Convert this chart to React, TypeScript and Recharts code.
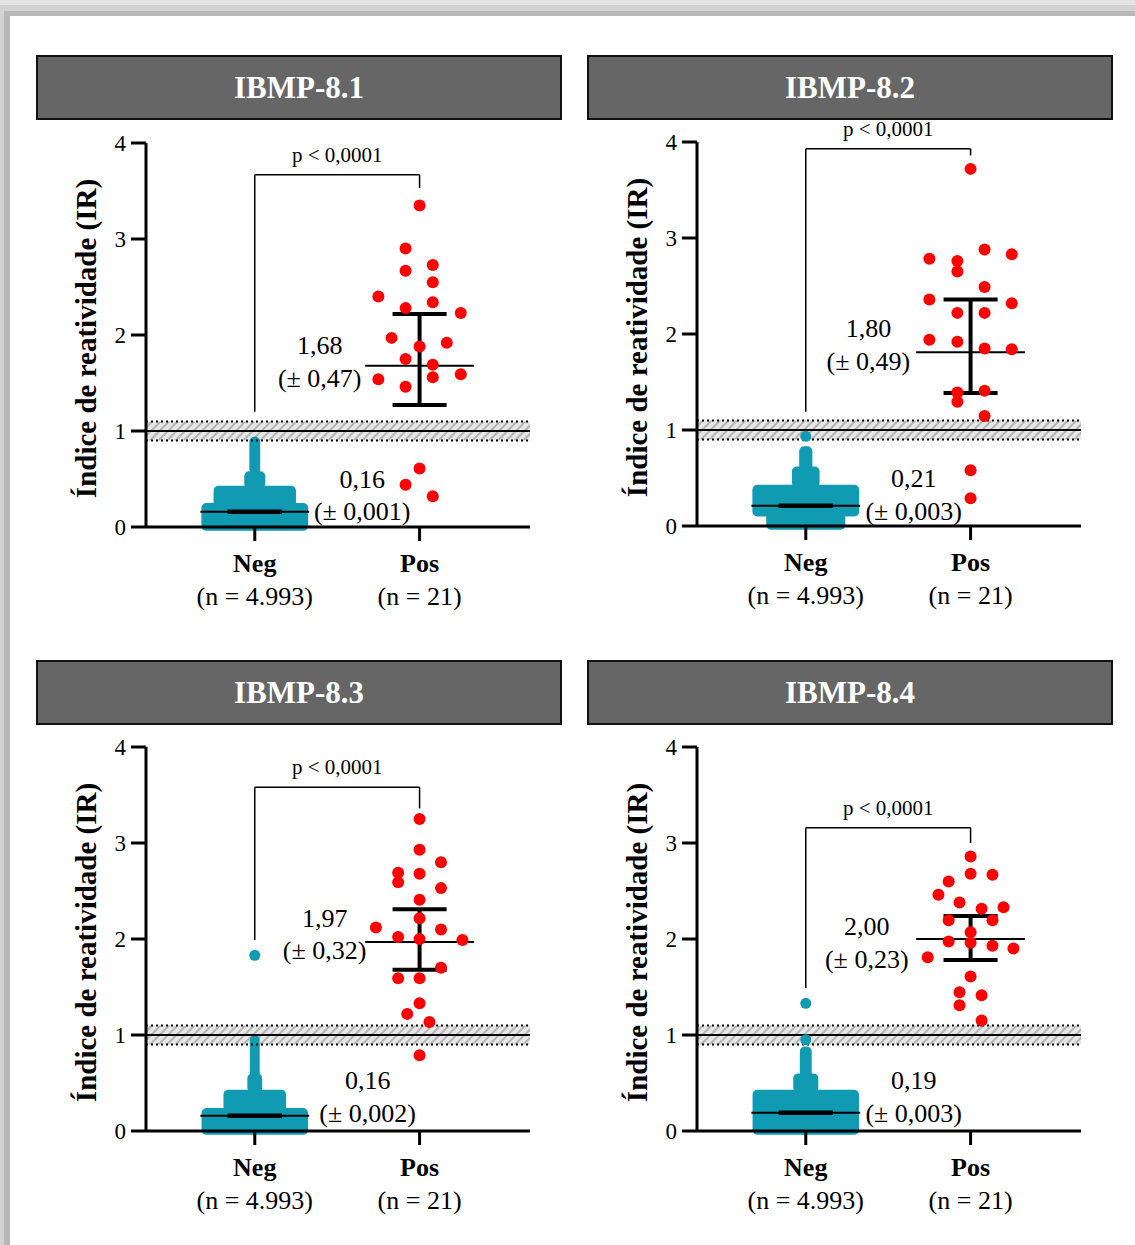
import React from 'react';
import {
  ComposedChart,
  Scatter,
  XAxis,
  YAxis,
  ReferenceArea,
  ReferenceLine,
  ReferenceDot,
} from 'recharts';

const FONT = '"Liberation Serif", "Times New Roman", serif';
const TEAL = '#109bb2';
const RED = '#ff0000';

const panelTitles = ['IBMP-8.1', 'IBMP-8.2', 'IBMP-8.3', 'IBMP-8.4'];
const groupNames = ['Neg', 'Pos'];
const groupSizes = ['(n = 4.993)', '(n = 21)'];
const yTicks = [0, 1, 2, 3, 4];
const cutoffLine = 1;
const cutoffLow = 0.9;
const cutoffHigh = 1.1;
const pText = 'p < 0,0001';

// positive sera: [IR, horizontal swarm offset]
const pos81: [number, number][] = [
  [3.35, 0], [2.9, -0.085], [2.73, 0.08], [2.67, -0.085], [2.55, 0.08], [2.4, -0.25], [2.34, 0.08],
  [2.28, -0.085], [2.23, 0.25], [1.97, -0.17], [1.92, 0.165], [1.88, 0], [1.75, -0.085], [1.69, 0.08],
  [1.54, -0.25], [1.56, 0.08], [1.59, 0.25], [1.46, -0.085], [0.61, 0], [0.44, -0.085], [0.32, 0.08],
];
const pos82: [number, number][] = [
  [3.72, 0], [2.785, -0.25], [2.76, -0.08], [2.88, 0.085], [2.83, 0.25], [2.65, -0.08], [2.49, 0.085],
  [2.36, -0.25], [2.32, 0.25], [2.22, -0.08], [2.22, 0.085], [1.94, -0.25], [1.92, -0.08], [1.85, 0.085],
  [1.84, 0.25], [1.39, -0.08], [1.41, 0.085], [1.295, -0.08], [1.146, 0.085], [0.58, 0], [0.29, 0],
];
const pos83: [number, number][] = [
  [3.25, 0], [2.93, 0], [2.8, 0.13], [2.69, -0.13], [2.68, 0], [2.59, -0.13], [2.53, 0.13],
  [2.41, 0], [2.215, 0], [2.12, -0.265], [2.1, 0.13], [2.02, -0.13], [2.0, 0], [1.99, 0.26],
  [1.7, 0.13], [1.59, -0.13], [1.59, 0], [1.33, 0], [1.22, -0.075], [1.135, 0.06], [0.79, 0],
];
const pos84: [number, number][] = [
  [2.86, 0], [2.6, -0.133], [2.68, 0], [2.67, 0.133], [2.46, -0.195], [2.38, -0.067], [2.315, 0.067],
  [2.33, 0.2], [2.195, -0.133], [2.195, 0.133], [2.07, 0], [1.975, -0.133], [1.96, 0], [1.93, 0.133],
  [1.9, 0.26], [1.81, -0.26], [1.61, 0], [1.445, -0.067], [1.415, 0.067], [1.31, -0.067], [1.15, 0.067],
];

// negative sera (n = 4.993) swarm outline: [from IR, to IR, half width]
const neg81: [number, number, number][] = [[-0.04, 0.25, 0.324], [0.2, 0.43, 0.25], [0.4, 0.58, 0.064], [0.55, 0.94, 0.033]];
const neg82: [number, number, number][] = [[-0.04, 0.14, 0.24], [0.1, 0.43, 0.324], [0.4, 0.62, 0.084], [0.55, 0.83, 0.04]];
const neg83: [number, number, number][] = [[-0.04, 0.24, 0.323], [0.2, 0.43, 0.19], [0.4, 0.6, 0.045], [0.55, 1.0, 0.03]];
const neg84: [number, number, number][] = [[-0.04, 0.43, 0.323], [0.4, 0.6, 0.076], [0.55, 0.88, 0.036]];
// isolated negative sera
const negOut81: number[] = [];
const negOut82 = [0.934];
const negOut83 = [1.83];
const negOut84 = [1.33, 0.95];

const negMean = [0.16, 0.21, 0.16, 0.19];
const posMean = [1.68, 1.81, 1.97, 2.0];
const posBarLow = [1.27, 1.385, 1.68, 1.78];
const posBarHigh = [2.22, 2.36, 2.31, 2.24];
const posMeanText = ['1,68', '1,80', '1,97', '2,00'];
const posSdText = ['(± 0,47)', '(± 0,49)', '(± 0,32)', '(± 0,23)'];
const negMeanText = ['0,16', '0,21', '0,16', '0,19'];
const negSdText = ['(± 0,001)', '(± 0,003)', '(± 0,002)', '(± 0,003)'];
const bracketTop = [3.67, 3.93, 3.58, 3.16];
const bracketNegFoot = [1.2, 1.19, 1.99, 1.49];
const bracketPosFoot = [3.53, 3.86, 3.36, 3.0];

const posSets = [pos81, pos82, pos83, pos84];
const negSets = [neg81, neg82, neg83, neg84];
const negOutSets = [negOut81, negOut82, negOut83, negOut84];

const TOP_PAD = 40;

const layout = [
  { left: 0, top: 120, hx: 36, hy: 55, px: 1.394, py: [1.896, 1.552], nx: 1.652, ny: [0.503, 0.17] },
  { left: 551, top: 119, hx: 587, hy: 55, px: 1.38, py: [2.0625, 1.72], nx: 1.655, ny: [0.5, 0.156] },
  { left: 0, top: 724, hx: 36, hy: 660, px: 1.424, py: [2.219, 1.885], nx: 1.685, ny: [0.531, 0.1875] },
  { left: 551, top: 724, hx: 587, hy: 660, px: 1.37, py: [2.135, 1.79], nx: 1.655, ny: [0.531, 0.1875] },
];

const GroupTick = (props: any) => {
  const { x, y, payload } = props;
  const idx = payload.value === 1 ? 0 : 1;
  return (
    <g>
      <text x={x} y={y + 29} textAnchor="middle" fontFamily={FONT} fontWeight="bold" fontSize={26} fill="#000">
        {groupNames[idx]}
      </text>
      <text x={x} y={y + 62} textAnchor="middle" fontFamily={FONT} fontSize={26} fill="#000">
        {groupSizes[idx]}
      </text>
    </g>
  );
};

const ValueTick = (props: any) => {
  const { x, y, payload } = props;
  return (
    <text x={x} y={y + 8} textAnchor="end" fontFamily={FONT} fontSize={23} fill="#000">
      {payload.value}
    </text>
  );
};

const AxisTitle = () => (
  <text
    x={96}
    y={218.5 + TOP_PAD}
    transform={`rotate(-90 96 ${218.5 + TOP_PAD})`}
    textAnchor="middle"
    fontFamily={FONT}
    fontWeight="bold"
    fontSize={29}
    fill="#000"
  >
    Índice de reatividade (IR)
  </text>
);

const textLabel = (value: string, size = 26) => ({
  value,
  position: 'center' as const,
  fontSize: size,
  fontFamily: FONT,
  fill: '#000',
});

function Panel({ i }: { i: number }) {
  const L = layout[i];
  const posData = posSets[i].map(([v, dx]) => ({ x: 2 + dx, y: v }));
  const negData = negOutSets[i].map((v) => ({ x: 1, y: v }));
  const seg = (x1: number, y1: number, x2: number, y2: number) => [
    { x: x1, y: y1 },
    { x: x2, y: y2 },
  ];

  return (
    <div style={{ position: 'absolute', left: L.left, top: L.top - TOP_PAD }}>
      <ComposedChart width={560} height={500 + TOP_PAD} margin={{ top: 23 + TOP_PAD, right: 30, bottom: 13, left: 86 }}>
        <defs>
          <pattern id={`hatch${i}`} width="6" height="6" patternUnits="userSpaceOnUse" patternTransform="rotate(45)">
            <rect width="6" height="6" fill="#e6e6e6" />
            <line x1="1" y1="0" x2="1" y2="6" stroke="#b4b4b4" strokeWidth="2" />
          </pattern>
        </defs>
        <XAxis
          type="number"
          dataKey="x"
          domain={[0.34, 2.67]}
          allowDataOverflow
          ticks={[1, 2]}
          interval={0}
          tick={<GroupTick />}
          tickSize={14}
          height={80}
          axisLine={{ stroke: '#000', strokeWidth: 3 }}
          tickLine={{ stroke: '#000', strokeWidth: 3 }}
        />
        <YAxis
          type="number"
          dataKey="y"
          domain={[0, 4]}
          allowDataOverflow
          ticks={yTicks}
          interval={0}
          width={60}
          tickSize={15}
          tickMargin={5}
          tick={<ValueTick />}
          axisLine={{ stroke: '#000', strokeWidth: 3 }}
          tickLine={{ stroke: '#000', strokeWidth: 3 }}
          label={<AxisTitle />}
        />

        <ReferenceArea y1={cutoffLow} y2={cutoffHigh} x1={0.34} x2={2.67} fill={`url(#hatch${i})`} fillOpacity={1} stroke="none" ifOverflow="visible" />
        <ReferenceLine y={cutoffHigh} stroke="#000" strokeWidth={2} strokeDasharray="2 3" />
        <ReferenceLine y={cutoffLow} stroke="#000" strokeWidth={2} strokeDasharray="2 3" />
        <ReferenceLine y={cutoffLine} stroke="#000" strokeWidth={2} />

        {negSets[i].map(([lo, hi, half], k) => (
          <ReferenceArea
            key={`n${k}`}
            x1={1 - half}
            x2={1 + half}
            y1={lo}
            y2={hi}
            fill={TEAL}
            fillOpacity={1}
            stroke="none"
            radius={5}
            ifOverflow="visible"
          />
        ))}

        <Scatter
          data={negData}
          isAnimationActive={false}
          shape={(p: any) => <circle cx={p.cx} cy={p.cy} r={5.5} fill={TEAL} />}
        />
        <Scatter
          data={posData}
          isAnimationActive={false}
          shape={(p: any) => <circle cx={p.cx} cy={p.cy} r={6} fill={RED} />}
        />

        {/* negative group mean and SD */}
        <ReferenceLine segment={seg(0.67, negMean[i], 1.33, negMean[i])} stroke="#000" strokeWidth={2} ifOverflow="visible" />
        <ReferenceLine segment={seg(0.835, negMean[i], 1.165, negMean[i])} stroke="#000" strokeWidth={4.5} ifOverflow="visible" />

        {/* positive group mean and SD */}
        <ReferenceLine segment={seg(1.67, posMean[i], 2.33, posMean[i])} stroke="#000" strokeWidth={2} ifOverflow="visible" />
        <ReferenceLine segment={seg(2, posBarLow[i], 2, posBarHigh[i])} stroke="#000" strokeWidth={4} ifOverflow="visible" />
        <ReferenceLine segment={seg(1.836, posBarHigh[i], 2.164, posBarHigh[i])} stroke="#000" strokeWidth={4} ifOverflow="visible" />
        <ReferenceLine segment={seg(1.836, posBarLow[i], 2.164, posBarLow[i])} stroke="#000" strokeWidth={4} ifOverflow="visible" />

        {/* significance bracket */}
        <ReferenceLine segment={seg(1, bracketNegFoot[i], 1, bracketTop[i])} stroke="#000" strokeWidth={1.5} ifOverflow="visible" />
        <ReferenceLine segment={seg(2, bracketPosFoot[i], 2, bracketTop[i])} stroke="#000" strokeWidth={1.5} ifOverflow="visible" />
        <ReferenceLine
          segment={seg(1, bracketTop[i], 2, bracketTop[i])}
          stroke="#000"
          strokeWidth={1.5}
          ifOverflow="visible"
          label={{ value: pText, position: 'top', offset: 13, fontSize: 21, fontFamily: FONT, fill: '#000' }}
        />

        <ReferenceDot x={L.px} y={L.py[0]} r={0} fill="none" stroke="none" ifOverflow="visible" label={textLabel(posMeanText[i])} />
        <ReferenceDot x={L.px} y={L.py[1]} r={0} fill="none" stroke="none" ifOverflow="visible" label={textLabel(posSdText[i])} />
        <ReferenceDot x={L.nx} y={L.ny[0]} r={0} fill="none" stroke="none" ifOverflow="visible" label={textLabel(negMeanText[i])} />
        <ReferenceDot x={L.nx} y={L.ny[1]} r={0} fill="none" stroke="none" ifOverflow="visible" label={textLabel(negSdText[i])} />
      </ComposedChart>
    </div>
  );
}

export default function App() {
  return (
    <div
      style={{
        position: 'absolute',
        left: 0,
        top: 0,
        width: 1135,
        height: 1245,
        background: '#e4e4e4',
        overflow: 'hidden',
        fontFamily: FONT,
      }}
    >
      <div style={{ position: 'absolute', left: 0, top: 5, right: 0, bottom: 0, background: '#d2d2d2' }} />
      <div style={{ position: 'absolute', left: 4, top: 11, right: 0, bottom: 0, background: '#b8b8b8' }} />
      <div style={{ position: 'absolute', left: 10, top: 16, right: 0, bottom: 0, background: '#ffffff' }} />

      {layout.map((L, i) => (
        <div
          key={`h${i}`}
          style={{
            position: 'absolute',
            left: L.hx,
            top: L.hy,
            width: 526,
            height: 65,
            boxSizing: 'border-box',
            border: '2px solid #111',
            background: '#666666',
            color: '#fff',
            fontWeight: 'bold',
            fontSize: 31,
            fontFamily: FONT,
            display: 'flex',
            alignItems: 'center',
            justifyContent: 'center',
          }}
        >
          {panelTitles[i]}
        </div>
      ))}

      {layout.map((_, i) => (
        <Panel key={`p${i}`} i={i} />
      ))}
    </div>
  );
}
